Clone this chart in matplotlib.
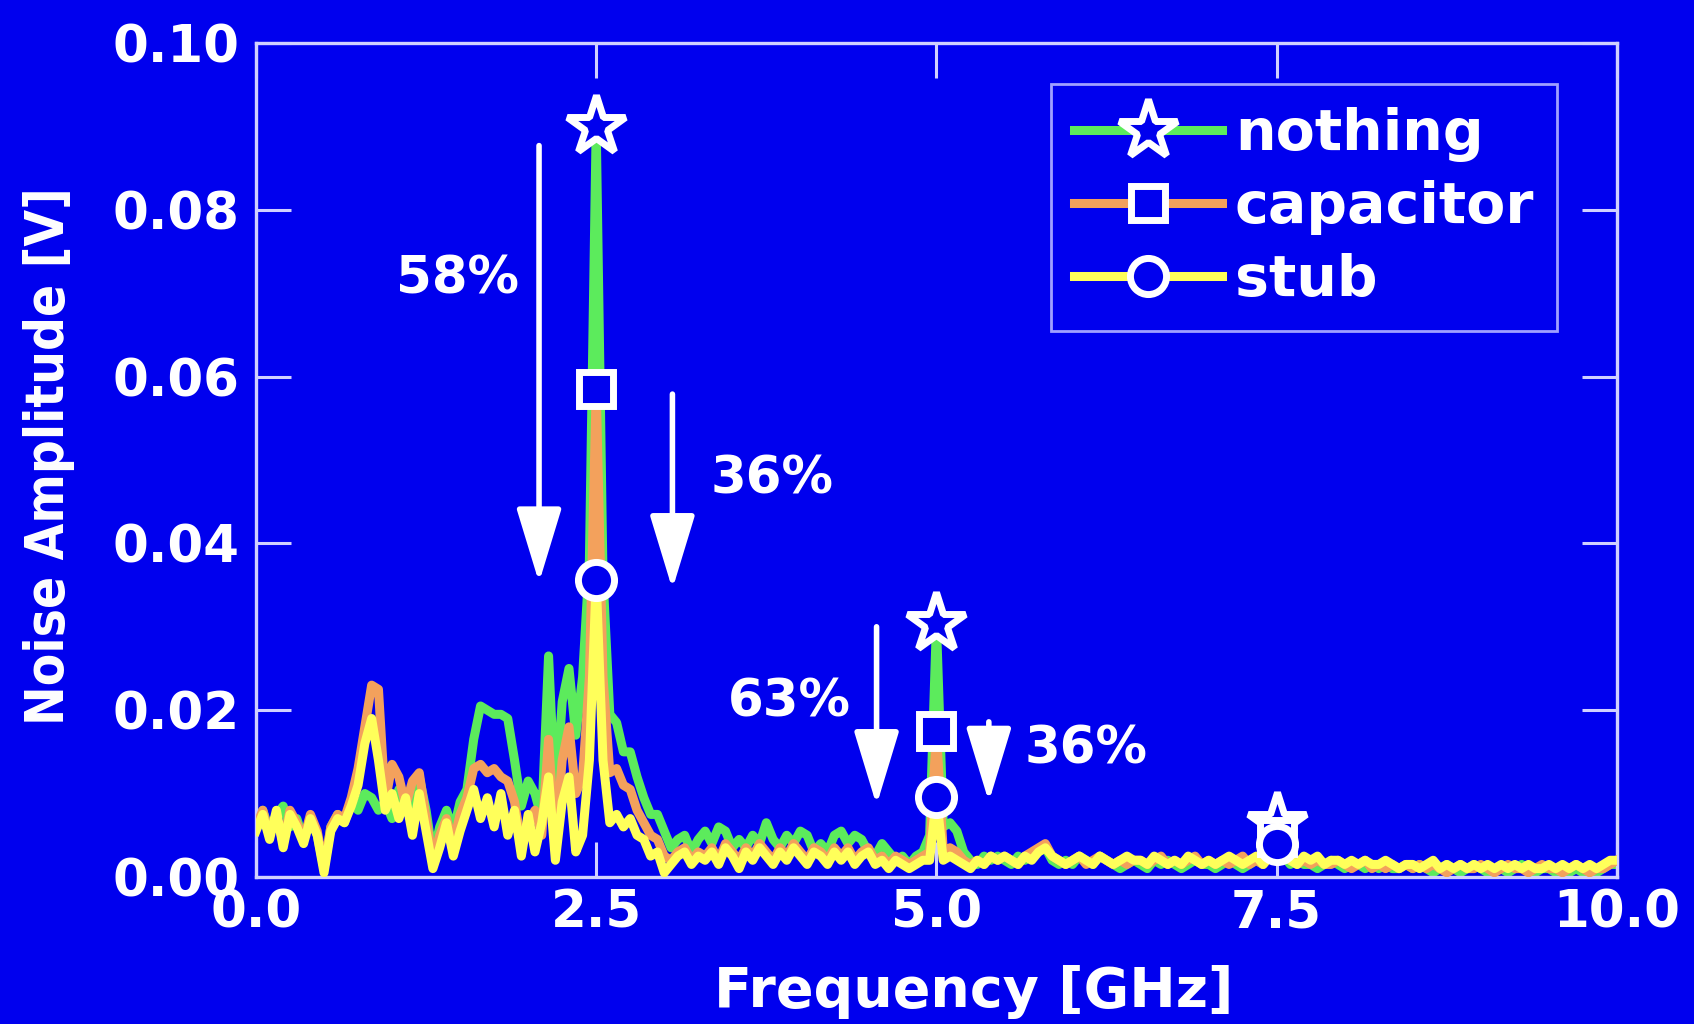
import numpy as np
import matplotlib
matplotlib.use("Agg")
import matplotlib.pyplot as plt
from matplotlib.lines import Line2D

# frequency grid, 0.05 GHz steps
freq = np.arange(201) * 0.05

# noise amplitude in mV, rows of 10 points (0.5 GHz each)
nothing_mv = [
    6.5, 8.0, 5.5, 7.5, 8.5, 6.0, 7.0, 4.5, 7.0, 5.0,
    1.0, 6.0, 7.5, 6.5, 9.0, 8.0, 10.0, 9.5, 8.0, 9.0,
    7.0, 10.5, 9.0, 6.5, 12.0, 8.0, 2.5, 6.0, 8.0, 5.5,
    9.0, 10.5, 16.5, 20.5, 20.0, 19.5, 19.5, 19.0, 14.0, 8.5,
    11.5, 10.0, 7.0, 26.5, 9.0, 21.0, 25.0, 17.0, 24.0, 38.0,
    90.0, 36.0, 19.5, 18.5, 15.0, 15.0, 12.0, 9.5, 7.5, 7.5,
    5.5, 3.5, 4.5, 5.0, 3.0, 4.5, 5.5, 4.0, 6.0, 5.5,
    3.5, 4.5, 3.5, 5.0, 4.0, 6.5, 4.5, 3.5, 5.0, 4.0,
    5.5, 5.0, 3.0, 4.0, 3.0, 5.0, 5.5, 4.0, 5.0, 4.5,
    3.0, 2.5, 4.0, 3.0, 2.0, 2.5, 1.5, 2.5, 3.0, 5.0,
    30.4, 6.0, 6.5, 5.5, 3.0, 2.0, 1.5, 2.5, 2.0, 2.5,
    2.0, 1.5, 2.5, 2.0, 2.5, 3.0, 3.5, 2.0, 1.5, 2.0,
    1.5, 2.5, 2.0, 1.5, 2.5, 2.0, 1.5, 1.0, 1.5, 2.0,
    1.5, 1.0, 2.0, 1.5, 2.0, 1.5, 1.0, 1.5, 2.0, 1.5,
    1.5, 1.0, 1.5, 2.0, 1.5, 1.0, 1.5, 2.0, 1.5, 2.5,
    6.5, 2.5, 1.5, 2.0, 1.5, 1.5, 1.0, 1.5, 2.0, 1.5,
    1.0, 1.5, 1.5, 1.0, 1.5, 1.0, 1.5, 1.0, 1.0, 1.5,
    1.0, 1.5, 1.0, 0.5, 1.0, 1.5, 1.0, 0.5, 1.0, 1.5,
    1.0, 0.5, 1.0, 1.0, 0.5, 1.0, 1.5, 1.0, 0.5, 1.0,
    1.0, 0.5, 1.0, 0.5, 1.0, 0.5, 1.0, 0.5, 1.0, 1.5,
    1.5,
]

capacitor_mv = [
    6.0, 8.0, 5.0, 7.5, 4.0, 8.0, 6.5, 4.5, 7.5, 5.5,
    1.0, 6.0, 7.5, 7.0, 9.5, 13.0, 18.0, 23.0, 22.5, 9.0,
    13.5, 12.0, 8.5, 11.5, 12.5, 7.0, 2.0, 5.0, 7.0, 4.0,
    7.5, 9.5, 13.0, 13.5, 12.5, 13.0, 12.0, 11.5, 9.0, 4.0,
    6.5, 8.0, 5.0, 16.5, 4.0, 14.0, 18.0, 10.0, 12.0, 24.0,
    58.5, 24.0, 12.5, 13.0, 11.0, 10.5, 8.0, 6.5, 5.0, 4.5,
    2.5, 2.0, 3.0, 3.5, 2.0, 3.0, 2.5, 3.5, 2.0, 4.0,
    3.0, 2.0, 3.5, 2.5, 4.0, 3.0, 2.0, 3.5, 2.5, 4.0,
    3.0, 2.0, 3.5, 3.0, 2.0, 3.5, 2.5, 3.5, 2.0, 3.0,
    3.5, 2.0, 2.5, 1.5, 2.5, 2.0, 1.5, 2.0, 2.5, 3.0,
    17.5, 3.0, 3.5, 3.0, 2.0, 1.5, 2.0, 1.5, 2.5, 2.0,
    2.5, 2.0, 1.5, 2.5, 3.0, 3.5, 4.0, 2.5, 2.0, 1.5,
    2.0, 2.5, 1.5, 2.0, 2.5, 2.0, 1.5, 2.0, 1.5, 2.0,
    2.0, 1.5, 2.0, 2.5, 1.5, 2.0, 1.5, 2.0, 2.5, 1.5,
    2.0, 1.5, 2.0, 1.5, 2.0, 2.5, 1.5, 2.0, 1.5, 2.5,
    4.8, 2.5, 2.0, 1.5, 2.0, 1.5, 2.0, 1.5, 1.5, 2.0,
    1.5, 1.0, 1.5, 2.0, 1.0, 1.5, 1.0, 1.5, 1.0, 1.5,
    1.0, 1.5, 1.0, 1.5, 1.0, 0.5, 1.0, 1.5, 1.0, 1.0,
    1.5, 1.0, 0.5, 1.0, 1.5, 1.0, 1.0, 0.5, 1.0, 1.5,
    1.0, 1.0, 0.5, 1.0, 1.5, 1.0, 0.5, 1.0, 1.0, 1.5,
    2.0,
]

stub_mv = [
    5.5, 7.5, 4.5, 8.0, 3.5, 7.5, 6.0, 4.0, 7.0, 5.0,
    0.5, 5.5, 7.0, 6.5, 8.5, 11.0, 16.0, 19.0, 14.0, 8.0,
    10.0, 7.0, 9.5, 5.0, 10.0, 5.5, 1.0, 3.5, 6.5, 2.5,
    5.5, 8.0, 10.5, 7.0, 9.5, 6.0, 10.0, 5.0, 8.0, 2.5,
    7.5, 3.0, 6.5, 12.0, 2.0, 9.0, 12.0, 3.0, 5.0, 14.0,
    35.6, 14.0, 6.5, 7.5, 6.0, 7.0, 5.0, 4.5, 2.5, 3.0,
    0.5, 1.5, 2.5, 3.0, 1.5, 2.5, 2.0, 3.0, 1.5, 3.5,
    2.5, 1.0, 3.0, 2.0, 3.5, 2.5, 1.5, 3.0, 2.0, 3.5,
    2.5, 1.5, 3.0, 2.5, 1.5, 3.0, 2.0, 3.0, 1.5, 2.5,
    3.0, 1.5, 2.0, 1.0, 2.0, 1.5, 1.0, 1.5, 2.0, 2.0,
    9.6, 2.0, 2.5, 2.0, 1.5, 1.0, 2.0, 1.5, 2.5, 2.0,
    2.5, 2.0, 1.5, 2.5, 2.0, 3.0, 3.5, 2.5, 2.0, 1.5,
    2.0, 2.5, 2.0, 1.5, 2.5, 2.0, 1.5, 2.0, 2.5, 2.0,
    2.0, 1.5, 2.5, 2.0, 1.5, 2.0, 1.5, 2.5, 2.0, 1.5,
    2.0, 1.5, 2.0, 2.5, 2.0, 1.5, 2.0, 2.5, 1.5, 2.5,
    4.0, 2.5, 2.0, 1.5, 2.5, 2.0, 2.5, 1.5, 2.0, 2.0,
    1.5, 2.0, 1.5, 2.0, 1.5, 1.5, 2.0, 1.5, 1.0, 1.5,
    1.5, 1.0, 1.5, 2.0, 1.0, 1.5, 1.0, 1.5, 1.0, 1.5,
    1.0, 1.5, 1.0, 1.5, 1.0, 1.5, 1.0, 1.5, 1.0, 1.0,
    1.5, 1.0, 1.5, 1.0, 1.5, 1.0, 1.5, 1.0, 1.5, 2.0,
    2.0,
]

nothing = np.array(nothing_mv) / 1000
capacitor = np.array(capacitor_mv) / 1000
stub = np.array(stub_mv) / 1000

# harmonics where the markers sit (2.5, 5.0, 7.5 GHz)
peak_idx = [50, 100, 150]

# reduction labels: text, x, y  and arrows: x, y_start, y_end
labels = [("58%", 1.48, 0.0717), ("36%", 3.79, 0.0477),
          ("63%", 3.92, 0.0209), ("36%", 6.10, 0.0153)]
arrows = [(2.08, 0.0877, 0.0353), (3.06, 0.0579, 0.0345),
          (4.56, 0.0300, 0.0086), (5.385, 0.0186, 0.0090)]

BLUE = "#0000EE"
GREEN = "#5CEB5C"
ORANGE = "#F3A15C"
YELLOW = "#FFFF5A"
EDGE = "#D0D0FF"

fig = plt.figure(figsize=(16.94, 10.24), dpi=100, facecolor=BLUE)
ax = fig.add_axes([0.1511, 0.1436, 0.8034, 0.8144])
ax.set_facecolor(BLUE)

series = [(nothing, GREEN, "*", 44, "nothing"),
          (capacitor, ORANGE, "s", 24, "capacitor"),
          (stub, YELLOW, "o", 26, "stub")]

handles = []
for k, (y, col, mk, ms, name) in enumerate(series):
    ax.plot(freq, y, color=col, lw=6.5, zorder=2 + k)
    ax.plot(freq[peak_idx], y[peak_idx], linestyle="none", marker=mk,
            ms=ms, mfc=BLUE, mec="white", mew=5, zorder=6 + k)
    handles.append(Line2D([], [], color=col, lw=6.5, marker=mk, ms=ms,
                          mfc=BLUE, mec="white", mew=5, label=name))

for x, y0, y1 in arrows:
    ax.annotate("", xy=(x, y1), xytext=(x, y0),
                arrowprops=dict(arrowstyle="-|>,head_length=2.3,head_width=0.7",
                                mutation_scale=20, lw=4, color="white",
                                shrinkA=0, shrinkB=0), zorder=10)

for txt, x, y in labels:
    ax.text(x, y, txt, color="white", fontsize=37, fontweight="bold",
            ha="center", va="center", zorder=10)

ax.set_xlim(0, 10)
ax.set_ylim(0, 0.1)
ax.set_xticks([0, 2.5, 5, 7.5, 10])
ax.set_xticklabels(["0.0", "2.5", "5.0", "7.5", "10.0"])
ax.set_yticks([0, 0.02, 0.04, 0.06, 0.08, 0.10])
ax.set_yticklabels(["0.00", "0.02", "0.04", "0.06", "0.08", "0.10"])
ax.tick_params(direction="in", length=25, width=2.2, color=EDGE,
               labelcolor="white", labelsize=37, top=True, right=True)
ax.tick_params(axis="x", pad=8)
ax.tick_params(axis="y", pad=12)
for lab in ax.get_xticklabels() + ax.get_yticklabels():
    lab.set_fontweight("bold")
for sp in ax.spines.values():
    sp.set_color(EDGE)
    sp.set_linewidth(2.4)

ax.set_xlabel("Frequency [GHz]", color="white", fontsize=40, fontweight="bold")
ax.xaxis.set_label_coords(0.527, -0.106)
ax.set_ylabel("Noise Amplitude [V]", color="white", fontsize=38,
              fontweight="bold", family="DejaVu Sans", fontstretch="condensed")
ax.yaxis.set_label_coords(-0.133, 0.505)

leg = ax.legend(handles=handles, loc="upper right",
                bbox_to_anchor=(0.956, 0.951), borderaxespad=0,
                prop={"weight": "bold", "size": 41},
                frameon=True, fancybox=False, facecolor=BLUE,
                edgecolor="#A0A0FF", framealpha=1, handlelength=2.6,
                handletextpad=0.22, labelspacing=0.32, borderpad=0.4,
                numpoints=1)
leg.get_frame().set_linewidth(2)
leg.set_zorder(12)
for t in leg.get_texts():
    t.set_color("white")

fig.savefig("out.png", dpi=100, facecolor=BLUE)
